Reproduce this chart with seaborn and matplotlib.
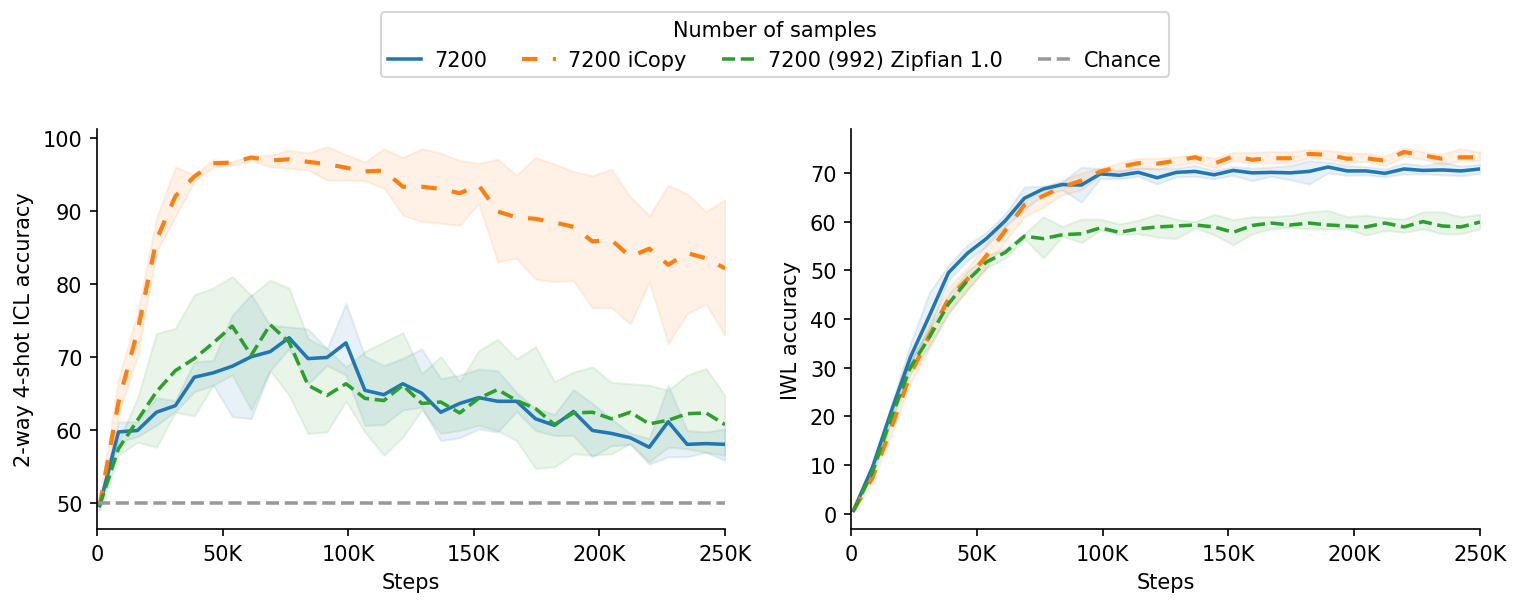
import numpy as np
import pandas as pd
import matplotlib
matplotlib.use('Agg')
import matplotlib.pyplot as plt
from matplotlib.ticker import FuncFormatter
import seaborn as sns

# --------------------------------------------------------------------------
# data
# --------------------------------------------------------------------------
steps = [1000, 8545, 16091, 23636, 31182, 38727, 46273, 53818, 61364, 68909,
         76455, 84000, 91545, 99091, 106636, 114182, 121727, 129273, 136818,
         144364, 151909, 159455, 167000, 174545, 182091, 189636, 197182,
         204727, 212273, 219818, 227364, 234909, 242455, 250000]

series_names = ['7200', '7200 iCopy', '7200 (992) Zipfian 1.0']

# ICL accuracy (left)
icl_base = [49.6, 59.7, 59.9, 62.4, 63.3, 67.2, 67.8, 68.7, 70.0, 70.7, 72.6, 69.75, 69.9, 71.9, 65.4, 64.8, 66.3,
            65.0, 62.4, 63.6, 64.4, 63.9, 63.9, 61.5, 60.6, 62.5, 59.9, 59.5, 58.9, 57.6, 61.1, 58.0, 58.1, 58.0]
icl_base_hi = [49.6, 61.1, 61.1, 64.4, 64.0, 69.3, 69.5, 75.7, 78.5, 74.3, 74.1, 73.8, 71.1, 77.3, 70.1, 68.8, 69.8,
               71.1, 67.0, 67.5, 68.3, 68.1, 65.1, 62.9, 62.1, 65.5, 63.6, 61.5, 59.5, 58.8, 66.1, 59.9, 59.7, 60.1]
icl_base_lo = [49.6, 58.3, 59.05, 60.6, 62.5, 65.2, 66.1, 61.8, 61.5, 68.1, 71.1, 66.3, 68.8, 67.5, 60.6, 60.7, 62.7,
               63.1, 58.5, 58.9, 60.1, 59.7, 62.5, 59.9, 59.2, 59.2, 56.3, 57.8, 58.0, 55.3, 56.3, 56.3, 56.9, 55.8]

icl_copy = [49.6, 63.8, 73.5, 86.0, 92.0, 94.7, 96.5, 96.6, 97.3, 96.9, 97.05, 96.7, 96.4, 95.9, 95.4, 95.5, 93.3,
            93.3, 93.0, 92.4, 93.5, 89.9, 89.1, 88.9, 88.4, 87.8, 85.8, 86.0, 83.7, 84.8, 82.6, 84.2, 83.5, 82.1]
icl_copy_hi = [50.5, 67.0, 76.0, 89.0, 96.0, 94.9, 97.0, 96.7, 97.6, 97.6, 98.3, 97.9, 98.8, 97.7, 96.7, 98.5, 97.3,
               98.5, 97.9, 96.9, 96.5, 97.05, 94.9, 97.3, 96.4, 95.4, 94.8, 95.7, 91.9, 89.3, 93.5, 92.3, 89.9, 91.5]
icl_copy_lo = [49.0, 62.0, 70.0, 84.4, 89.2, 94.0, 96.0, 96.2, 96.95, 96.0, 95.8, 95.6, 94.2, 94.2, 94.1, 93.1, 89.4,
               88.5, 88.3, 88.0, 91.0, 83.0, 83.5, 80.6, 80.3, 80.4, 76.7, 76.7, 74.5, 80.2, 71.8, 75.9, 77.2, 72.9]

icl_zipf = [49.6, 57.4, 61.3, 65.2, 68.1, 69.75, 71.9, 74.2, 70.2, 74.4, 72.0, 66.1, 64.7, 66.3, 64.3, 64.0, 66.1,
            63.6, 63.8, 62.3, 64.3, 65.5, 64.0, 62.9, 60.7, 62.3, 62.4, 61.5, 62.4, 60.8, 61.3, 62.2, 62.3, 60.7]
icl_zipf_hi = [49.6, 58.5, 64.3, 73.2, 73.9, 78.5, 79.4, 81.0, 78.4, 80.5, 79.4, 72.5, 71.1, 68.6, 70.7, 72.0, 73.3,
               67.7, 70.0, 66.6, 70.8, 72.4, 69.7, 71.4, 66.6, 67.9, 68.6, 66.5, 66.3, 66.1, 65.4, 67.5, 68.4, 64.7]
icl_zipf_lo = [49.0, 56.5, 58.3, 57.6, 62.4, 61.9, 66.1, 67.5, 62.7, 68.1, 64.7, 59.5, 59.7, 63.9, 59.7, 56.5, 59.0,
               62.7, 59.5, 59.9, 60.6, 59.9, 58.5, 54.7, 54.9, 56.7, 56.5, 56.7, 58.1, 55.6, 57.6, 57.4, 56.9, 56.5]

# IWL accuracy (right)
iwl_base = [0.7, 9.6, 21.2, 32.2, 40.7, 49.5, 53.5, 56.5, 60.2, 64.8, 66.7, 67.6, 67.5, 69.8, 69.5, 70.1, 69.0,
            70.1, 70.3, 69.6, 70.5, 70.0, 70.1, 70.0, 70.3, 71.2, 70.4, 70.4, 69.9, 70.8, 70.5, 70.6, 70.4, 70.8]
iwl_base_hi = [0.7, 10.2, 22.5, 35.0, 45.5, 51.0, 55.2, 57.8, 61.6, 67.1, 67.3, 68.1, 71.2, 70.8, 70.5, 71.0, 70.8,
               71.0, 71.5, 70.5, 71.3, 71.0, 71.2, 71.5, 72.5, 72.2, 71.5, 71.3, 70.8, 72.0, 71.5, 72.2, 71.4, 71.8]
iwl_base_lo = [0.7, 9.0, 20.0, 31.0, 38.0, 48.0, 52.0, 55.0, 59.0, 62.5, 65.5, 66.5, 64.0, 68.8, 68.8, 69.3, 67.7,
               69.2, 69.3, 68.8, 69.5, 68.4, 69.3, 68.6, 67.7, 70.0, 69.5, 69.6, 69.2, 69.8, 69.8, 69.6, 69.4, 69.9]

iwl_copy = [0.7, 7.5, 17.8, 28.7, 36.6, 44.1, 48.2, 53.0, 58.2, 63.4, 65.3, 67.1, 68.4, 70.3, 71.2, 72.0, 71.9,
            72.5, 73.2, 71.9, 73.4, 72.7, 73.0, 73.0, 73.9, 73.7, 72.9, 73.0, 72.5, 74.3, 73.6, 72.9, 73.2, 73.2]
iwl_copy_hi = [1.0, 8.5, 19.5, 31.0, 39.0, 46.5, 50.5, 55.5, 60.5, 65.0, 67.0, 68.5, 70.0, 71.0, 72.0, 73.0, 73.0,
               73.3, 73.8, 73.0, 74.2, 74.2, 74.4, 74.3, 74.8, 74.6, 74.2, 74.0, 73.5, 75.2, 74.3, 73.8, 75.0, 74.2]
iwl_copy_lo = [0.5, 6.5, 16.5, 27.0, 34.0, 41.5, 46.0, 50.5, 56.0, 61.0, 63.0, 65.5, 66.5, 69.5, 70.2, 71.0, 70.8,
               71.5, 72.2, 71.0, 72.5, 72.0, 72.0, 72.0, 73.0, 72.8, 72.0, 72.3, 71.5, 73.3, 72.8, 71.7, 72.5, 72.4]

iwl_zipf = [0.7, 8.6, 19.9, 30.1, 36.3, 43.1, 47.9, 51.7, 53.7, 57.0, 56.5, 57.3, 57.5, 58.7, 57.8, 58.5, 58.9,
            59.1, 59.3, 58.9, 57.8, 59.2, 59.7, 59.3, 59.7, 59.3, 59.1, 58.9, 59.7, 58.9, 60.0, 59.1, 58.9, 59.9]
iwl_zipf_hi = [0.9, 9.3, 21.0, 31.5, 38.0, 45.0, 49.8, 53.0, 54.5, 57.5, 61.0, 59.0, 60.5, 60.5, 59.5, 60.3, 61.5,
               60.5, 60.0, 61.5, 60.4, 61.0, 61.0, 61.3, 62.0, 62.3, 61.0, 61.3, 60.8, 60.5, 62.0, 62.0, 61.0, 61.5]
iwl_zipf_lo = [0.5, 8.0, 18.8, 28.8, 34.5, 41.0, 46.0, 50.5, 52.5, 56.5, 52.5, 57.0, 55.7, 58.2, 57.3, 57.5, 56.8,
               56.5, 58.7, 57.3, 55.2, 57.5, 58.5, 58.8, 58.5, 58.5, 58.5, 57.2, 58.2, 57.8, 58.5, 57.5, 57.5, 58.5]

chance_steps = [0, 250000]
chance_acc = [50, 50]

# --------------------------------------------------------------------------
# styles
# --------------------------------------------------------------------------
colors = {'7200': '#1f77b4', '7200 iCopy': '#ff7f0e', '7200 (992) Zipfian 1.0': '#2ca02c'}
styles = {'7200': dict(linestyle='-', lw=1.7),
          '7200 iCopy': dict(linestyle=(0, (3.7, 3.7)), lw=2.0),
          '7200 (992) Zipfian 1.0': dict(linestyle=(0, (3.7, 1.6)), lw=1.7)}

panels = [
    ('2-way 4-shot ICL accuracy', [(icl_base, icl_base_lo, icl_base_hi),
                                   (icl_copy, icl_copy_lo, icl_copy_hi),
                                   (icl_zipf, icl_zipf_lo, icl_zipf_hi)]),
    ('IWL accuracy', [(iwl_base, iwl_base_lo, iwl_base_hi),
                      (iwl_copy, iwl_copy_lo, iwl_copy_hi),
                      (iwl_zipf, iwl_zipf_lo, iwl_zipf_hi)]),
]

plt.rcParams['font.size'] = 10
fig = plt.figure(figsize=(10.14, 4.06), dpi=150)
ax1 = fig.add_axes([0.0638, 0.1297, 0.4129, 0.6568])
ax2 = fig.add_axes([0.5595, 0.1297, 0.4135, 0.6568])

k_fmt = FuncFormatter(lambda v, pos: '0' if v == 0 else f'{int(v / 1000)}K')

for ax, (ylabel, curves) in zip([ax1, ax2], panels):
    for name, (mean, lo, hi) in zip(series_names, curves):
        df = pd.DataFrame({'Steps': steps, 'acc': mean})
        sns.lineplot(data=df, x='Steps', y='acc', ax=ax, color=colors[name],
                     label=name, errorbar=None, **styles[name])
        ax.fill_between(steps, lo, hi, color=colors[name], alpha=0.1)
    ax.set_ylabel(ylabel)
    ax.set_xlabel('Steps')
    ax.set_xlim(0, 250000)
    ax.set_xticks([0, 50000, 100000, 150000, 200000, 250000])
    ax.xaxis.set_major_formatter(k_fmt)
    sns.despine(ax=ax)

# chance level only on the ICL panel
sns.lineplot(x=chance_steps, y=chance_acc, ax=ax1, color='#999999', linestyle='--',
             lw=1.7, label='Chance')

ax1.set_ylim(46.4, 101.2)
ax1.set_yticks([50, 60, 70, 80, 90, 100])
ax2.set_ylim(-3.1, 79)
ax2.set_yticks([0, 10, 20, 30, 40, 50, 60, 70])

handles, labels = ax1.get_legend_handles_labels()
ax1.get_legend().remove()
ax2.get_legend().remove()
fig.legend(handles, labels, title='Number of samples', ncol=4, loc='center',
           bbox_to_anchor=(0.5095, 0.9245), handlelength=1.6, handletextpad=0.6,
           columnspacing=1.7, borderpad=0.35, fontsize=10, title_fontsize=10)

fig.savefig('out.png', dpi=150)
